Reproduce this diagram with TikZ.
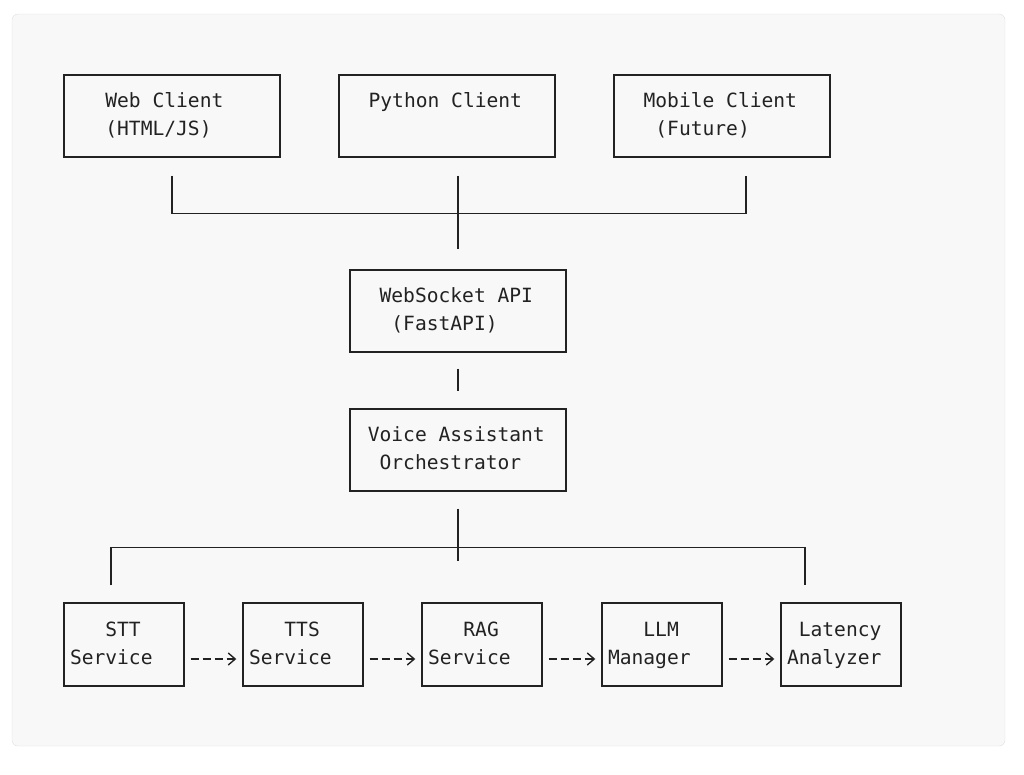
\documentclass[tikz,border=0pt]{standalone}
\usepackage{fontspec}
\setmonofont{DejaVu Sans Mono}
\usetikzlibrary{arrows.meta}
\definecolor{framebg}{HTML}{F8F8F8}
\definecolor{frameline}{HTML}{E0E0E0}
\definecolor{ink}{HTML}{222222}
\newlength\cw
\setlength\cw{11.8pt}
\newcommand\txtline[2]{\spaceskip=\cw\relax\strut\hspace*{#1\cw}#2}

\begin{document}
\begin{tikzpicture}[x=1pt,y=-1pt,
	wide/.style={draw=ink,line width=1.4pt,minimum width=216pt,minimum height=82pt,text width=204pt,inner xsep=6pt,inner ysep=0pt,align=left,text=ink,font=\ttfamily\fontsize{19.6}{28}\selectfont},
	small/.style={wide,minimum width=120pt,minimum height=83pt,text width=108pt},
	wire/.style={draw=ink,line width=1.4pt},
	flow/.style={wire,dash pattern=on 8pt off 4pt,-{Straight Barb[length=7pt,width=12pt]},shorten <=6pt,shorten >=6pt}]
	\useasboundingbox (0,0) rectangle (1024,774);
	\draw[frameline,fill=framebg,rounded corners=6pt] (12,14) rectangle (1005,746);
	
	\node[wide] (web) at (172,116) {\txtline{3}{Web Client}\\\txtline{3}{(HTML/JS)}};
	\node[wide] (python) at (447,116) {\txtline{2}{Python Client}\\\strut};
	\node[wide] (mobile) at (722,116) {\txtline{2}{Mobile Client}\\\txtline{3}{(Future)}};
	\node[wide] (api) at (458,311) {\txtline{2}{WebSocket API}\\\txtline{3}{(FastAPI)}};
	\node[wide] (orch) at (458,450) {\txtline{1}{Voice Assistant}\\\txtline{2}{Orchestrator}};
	
	\node[small] (stt) at (124,644.5) {\txtline{3}{STT}\\\txtline{0}{Service}};
	\node[small] (tts) at (303,644.5) {\txtline{3}{TTS}\\\txtline{0}{Service}};
	\node[small] (rag) at (482,644.5) {\txtline{3}{RAG}\\\txtline{0}{Service}};
	\node[small] (llm) at (662,644.5) {\txtline{3}{LLM}\\\txtline{0}{Manager}};
	\node[small] (lat) at (841,644.5) {\txtline{1}{Latency}\\\txtline{0}{Analyzer}};
	
	\draw[wire] ([yshift=-18pt]web.south) |- ([xshift=24pt,yshift=-56pt]mobile.south) -- ([xshift=24pt,yshift=-18pt]mobile.south);
	\draw[wire] ([yshift=-18pt]api.north |- python.south) -- ([yshift=20pt]api.north);
	\draw[wire] ([yshift=-16pt]api.south) -- ([yshift=17pt]orch.north);
	\draw[wire] ([yshift=-17pt]orch.south) -- ++(0,52);
	\draw[wire] ([xshift=-13pt,yshift=17pt]stt.north) -- ([xshift=-13pt,yshift=55pt]stt.north) -- ([xshift=-36pt,yshift=55pt]lat.north) -- ([xshift=-36pt,yshift=17pt]lat.north);
	
	\foreach \a/\b in {stt/tts,tts/rag,rag/llm,llm/lat}
		\draw[flow] ([yshift=-14.5pt]\a.east) -- ([yshift=-14.5pt]\b.west);
\end{tikzpicture}
\end{document}
